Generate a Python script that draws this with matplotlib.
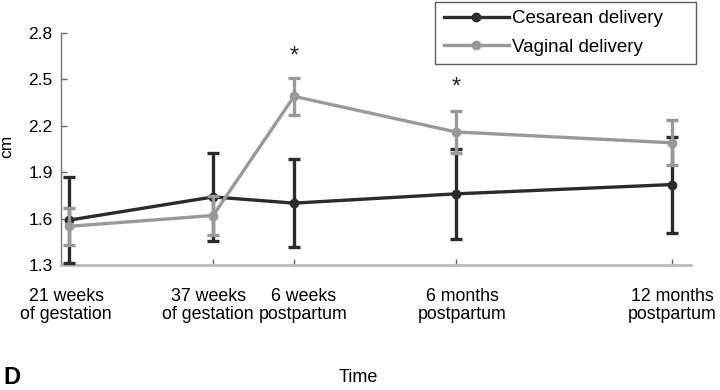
import matplotlib
matplotlib.use('Agg')
import matplotlib.pyplot as plt
from matplotlib.lines import Line2D

plt.rcParams['font.family'] = ['Liberation Sans', 'DejaVu Sans']

# time axis in weeks from conception (approx positions used in the figure)
weeks = [21, 37, 46, 64, 88]
tick_labels = ['21 weeks\nof gestation', '37 weeks\nof gestation', '6 weeks\npostpartum',
               '6 months\npostpartum', '12 months\npostpartum']
label_shift = [-2, -3.6, 6.5, 4.3, 0]   # points, labels are nudged off-centre in the original

cesarean = [1.59, 1.74, 1.70, 1.76, 1.82]
cesarean_err = [0.28, 0.285, 0.285, 0.29, 0.31]
vaginal = [1.55, 1.62, 2.39, 2.16, 2.09]
vaginal_err = [0.12, 0.125, 0.12, 0.135, 0.145]

star_x = [46, 64]
star_y = [2.65, 2.45]

dark = '#2b2b2b'
grey = '#999999'

fig = plt.figure(figsize=(7.2, 3.9), dpi=100)
ax = fig.add_axes([0.0847, 0.3205, 0.875, 0.595])

ax.errorbar(weeks, cesarean, yerr=cesarean_err, color=dark, lw=2.4, marker='o', ms=6,
            capsize=4, capthick=2.4, elinewidth=2.4, zorder=3)
ax.errorbar(weeks, vaginal, yerr=vaginal_err, color=grey, lw=2.4, marker='o', ms=6,
            capsize=4, capthick=2.4, elinewidth=2.4, zorder=4)

for x, y in zip(star_x, star_y):
    ax.text(x, y, '*', ha='center', va='center', fontsize=17, color=dark)

ax.set_xlim(20.1, 90.1)
ax.set_ylim(1.3, 2.8)
ax.set_yticks([1.3, 1.6, 1.9, 2.2, 2.5, 2.8])
ax.set_yticklabels(['1.3', '1.6', '1.9', '2.2', '2.5', '2.8'])
ax.set_xticks(weeks)
ax.set_xticklabels([])

for x, lab, dx in zip(weeks, tick_labels, label_shift):
    ax.annotate(lab, xy=(x, 0), xycoords=('data', 'axes fraction'),
                xytext=(dx, -16.5), textcoords='offset points',
                ha='center', va='top', fontsize=12.8, linespacing=1.12,
                annotation_clip=False)

ax.tick_params(axis='y', direction='in', length=4, width=1, color='#666666',
               labelsize=12.5, pad=6)
ax.tick_params(axis='x', direction='in', length=4, width=1, color='#666666')

ax.spines['top'].set_visible(False)
ax.spines['right'].set_visible(False)
ax.spines['left'].set_color('#777777')
ax.spines['left'].set_linewidth(1)
ax.spines['bottom'].set_color('#bbbbbb')
ax.spines['bottom'].set_linewidth(2)

fig.text(0.009, 0.625, 'cm', rotation=90, ha='center', va='center', fontsize=12.5)

handles = [Line2D([], [], color=dark, lw=2.4, marker='o', ms=6),
           Line2D([], [], color=grey, lw=2.4, marker='o', ms=6)]
leg = ax.legend(handles, ['Cesarean delivery', 'Vaginal delivery'],
                loc='upper left', bbox_to_anchor=(0.594, 0.849, 0.414, 0.285),
                mode='expand', fontsize=13.5, frameon=True, fancybox=False,
                edgecolor='#333333', handlelength=3.5, borderpad=0.45,
                labelspacing=0.6, handletextpad=0.15, borderaxespad=0)
leg.get_frame().set_linewidth(1)

fig.text(0.497, 0.031, 'Time', ha='center', va='center', fontsize=13)
fig.text(0.004, 0.031, 'D', ha='left', va='center', fontsize=17, fontweight='bold')

fig.savefig('out.png', dpi=100)
